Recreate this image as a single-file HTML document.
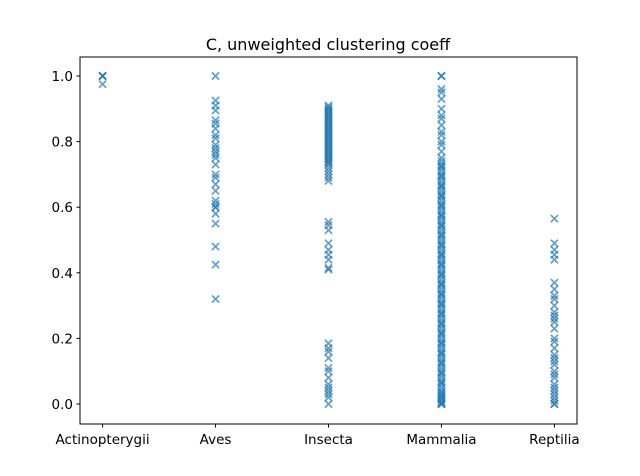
<!DOCTYPE html>
<html><head><meta charset="utf-8"><style>
html,body{margin:0;padding:0;background:#fff}
svg{display:block;font-family:"DejaVu Sans","Liberation Sans",sans-serif}
</style></head><body>
<svg id="chart" width="640" height="476" viewBox="0 0 640 476" xmlns="http://www.w3.org/2000/svg">
<rect width="640" height="476" fill="#fff"/>
<text x="328" y="50" font-size="16" text-anchor="middle" fill="#000">C, unweighted clustering coeff</text>
<g id="marks"></g>
<g id="axes"></g>
</svg>
<script>
const categories = ["Actinopterygii","Aves","Insecta","Mammalia","Reptilia"];
const actinopterygiiValues = [1,1,1,0.975];
const avesValues = [1,0.925,0.91,0.895,0.865,0.855,0.84,0.82,0.81,0.79,0.78,0.77,0.76,0.75,0.73,0.70,0.69,0.67,0.65,0.62,0.61,0.60,0.60,0.58,0.55,0.48,0.425,0.32];
const insectaValues = [0.91,0.905,0.9,0.895,0.89,0.885,0.88,0.875,0.87,0.865,0.86,0.855,0.85,0.845,0.84,0.835,0.83,0.825,0.82,0.815,0.81,0.805,0.8,0.795,0.79,0.785,0.78,0.775,0.77,0.765,0.76,0.755,0.75,0.745,0.74,0.735,0.73,0.72,0.71,0.70,0.69,0.68,0.555,0.545,0.53,0.49,0.47,0.455,0.44,0.415,0.41,0.185,0.17,0.16,0.14,0.11,0.10,0.08,0.06,0.05,0.04,0.03,0.02,0.0];
const mammaliaValues = [0,0,0,0.005,0.01,0.015,0.02,0.025,0.03,0.04,0.05,0.06,0.07,0.08,0.09,0.1,0.11,0.12,0.13,0.14,0.15,0.16,0.17,0.18,0.19,0.2,0.21,0.22,0.23,0.24,0.25,0.26,0.27,0.28,0.29,0.3,0.31,0.32,0.33,0.34,0.35,0.36,0.37,0.38,0.39,0.4,0.41,0.42,0.43,0.44,0.45,0.46,0.47,0.48,0.49,0.5,0.51,0.52,0.53,0.54,0.55,0.56,0.57,0.58,0.59,0.6,0.61,0.62,0.63,0.64,0.65,0.66,0.67,0.68,0.69,0.7,0.71,0.72,0.73,0.74,0.75,0.035,0.065,0.095,0.125,0.155,0.185,0.215,0.245,0.275,0.305,0.335,0.365,0.395,0.425,0.455,0.485,0.515,0.545,0.575,0.605,0.635,0.665,0.695,0.725,0.77,0.79,0.8,0.82,0.83,0.85,0.87,0.88,0.9,0.93,0.95,0.96,1.0,1.0];
const reptiliaValues = [0.565,0.49,0.47,0.455,0.44,0.37,0.35,0.33,0.32,0.30,0.28,0.27,0.26,0.25,0.23,0.20,0.19,0.17,0.15,0.14,0.13,0.12,0.10,0.09,0.08,0.06,0.05,0.04,0.03,0.02,0.01,0,0];
const seriesValues = [actinopterygiiValues,avesValues,insectaValues,mammaliaValues,reptiliaValues];
const yTickLabels = ["0.0","0.2","0.4","0.6","0.8","1.0"];
const yTickValues = [0,0.2,0.4,0.6,0.8,1.0];

const L=80,R=577,T=57,B=424;
const xMin=-0.2,xMax=4.2;
function xs(i){return L+(i-xMin)/(xMax-xMin)*(R-L);}
function ys(v){return 404-v*328;}
const NS="http://www.w3.org/2000/svg";
const marks=document.getElementById('marks');
const axes=document.getElementById('axes');
seriesValues.forEach((arr,ci)=>{
  arr.forEach(v=>{
    const x=xs(ci),y=ys(v),s=3.6;
    const p=document.createElementNS(NS,'path');
    p.setAttribute('d',`M${x-s},${y-s}L${x+s},${y+s}M${x-s},${y+s}L${x+s},${y-s}`);
    p.setAttribute('stroke','#1f77b4');p.setAttribute('stroke-width','1.7');p.setAttribute('stroke-opacity','0.7');p.setAttribute('fill','none');
    
    
    marks.appendChild(p);
  });
});
const frame=document.createElementNS(NS,'rect');
frame.setAttribute('x',L);frame.setAttribute('y',T);frame.setAttribute('width',R-L);frame.setAttribute('height',B-T);
frame.setAttribute('fill','none');frame.setAttribute('stroke','#000');frame.setAttribute('stroke-width','1');


axes.appendChild(frame);
yTickValues.forEach((v,i)=>{
  const y=ys(v);
  const l=document.createElementNS(NS,'line');
  l.setAttribute('x1',L-3.5);l.setAttribute('x2',L);l.setAttribute('y1',y);l.setAttribute('y2',y);l.setAttribute('stroke','#000');
  
  
  axes.appendChild(l);
  const t=document.createElementNS(NS,'text');
  t.setAttribute('x',L-7);t.setAttribute('y',y+5);t.setAttribute('text-anchor','end');t.setAttribute('font-size','13.5');
  t.textContent=yTickLabels[i];
  
  
  axes.appendChild(t);
});
categories.forEach((c,i)=>{
  const x=xs(i);
  const l=document.createElementNS(NS,'line');
  l.setAttribute('x1',x);l.setAttribute('x2',x);l.setAttribute('y1',B);l.setAttribute('y2',B+3.5);l.setAttribute('stroke','#000');
  
  
  axes.appendChild(l);
  const t=document.createElementNS(NS,'text');
  t.setAttribute('x',x);t.setAttribute('y',B+20);t.setAttribute('text-anchor','middle');t.setAttribute('font-size','13.5');
  t.textContent=c;
  
  
  axes.appendChild(t);
});
</script>
</body></html>
